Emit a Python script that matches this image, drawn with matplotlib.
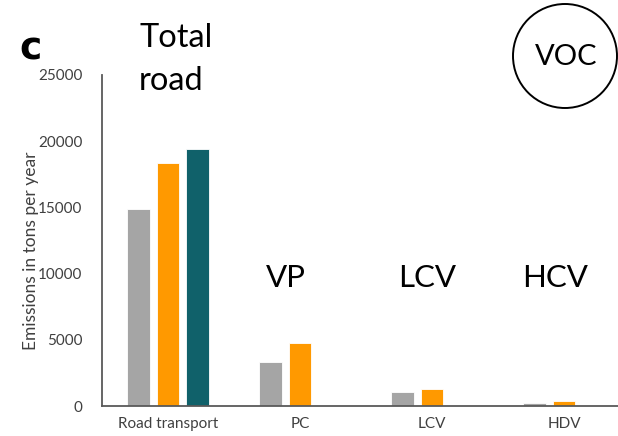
import matplotlib
matplotlib.use("Agg")
import matplotlib.pyplot as plt
from matplotlib.patches import Circle
import numpy as np

# Emission totals (tons per year) by vehicle category and scenario
categories = ["Road transport", "PC", "LCV", "HDV"]
scenario_a = [14850, 3350, 1035, 205]
scenario_b = [18330, 4740, 1260, 355]
scenario_c = [19410, 0, 0, 0]
y_ticks = [0, 5000, 10000, 15000, 20000, 25000]

colors = ["#A5A5A5", "#FF9900", "#10616A"]
font = "Lato"
plt.rcParams["font.family"] = [font, "DejaVu Sans"]

W, H = 618, 436
fig = plt.figure(figsize=(W / 100, H / 100), dpi=100)

# main bar axes (right edge runs past the figure border)
ax = fig.add_axes([102 / W, 30 / H, 528 / W, 331 / H])
x = np.arange(len(categories))
pitch, width = 0.2235, 0.174
for i, (vals, col) in enumerate(zip([scenario_a, scenario_b, scenario_c], colors)):
    ax.bar(x + (i - 1) * pitch, vals, width, color=col, edgecolor="#ffffff",
           linewidth=0.6, zorder=2)

ax.set_xlim(-0.5, 3.5)
ax.set_ylim(0, 25000)
ax.set_yticks(y_ticks)
ax.set_yticklabels([str(v) for v in y_ticks], fontsize=11, color="#404040")
ax.set_xticks(x)
ax.set_xticklabels(categories, fontsize=11, color="#404040")
ax.tick_params(axis="both", length=0)
ax.tick_params(axis="y", pad=14)
ax.tick_params(axis="x", pad=8)
for side in ["top", "right"]:
    ax.spines[side].set_visible(False)
for side in ["left", "bottom"]:
    ax.spines[side].set_color("#595959")
    ax.spines[side].set_linewidth(1.3)
ax.set_ylabel("Emissions in tons per year", fontsize=12.5, color="#404040")
ax.yaxis.set_label_coords(-63 / 528, 0.47)

# overlay in pixel coordinates for headings and the badge
ov = fig.add_axes([0, 0, 1, 1], zorder=5)
ov.set_xlim(0, W)
ov.set_ylim(H, 0)
ov.axis("off")
ov.patch.set_alpha(0)

big = 22.5
ov.text(19, 60, "c", fontsize=27, fontweight="heavy", family="DejaVu Sans",
        ha="left", va="baseline", color="black")
ov.text(139, 47, "Total", fontsize=23.5, ha="left", va="baseline")
ov.text(139, 90, "road", fontsize=23.5, ha="left", va="baseline")
ov.text(286, 287, "VP", fontsize=big, ha="center", va="baseline")
ov.text(427, 287, "LCV", fontsize=big, ha="center", va="baseline")
ov.text(555, 287, "HCV", fontsize=big, ha="center", va="baseline")

ov.add_patch(Circle((565, 56), 52, fill=False, edgecolor="black", linewidth=1.4))
ov.text(566, 65, "VOC", fontsize=21, ha="center", va="baseline")

fig.savefig("out.png", dpi=100)
